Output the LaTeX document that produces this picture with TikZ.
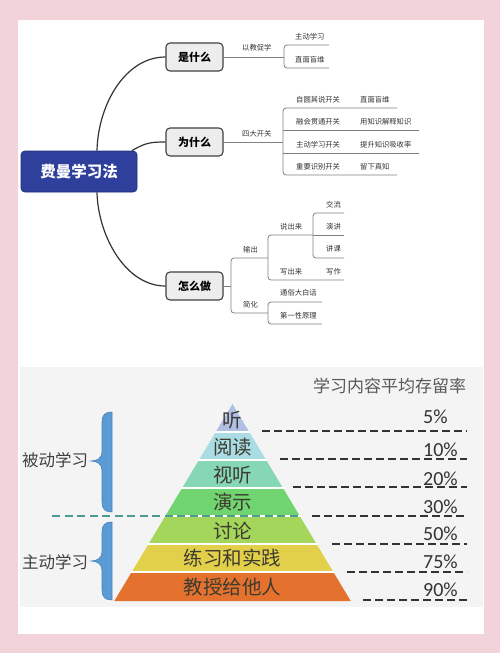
\documentclass[tikz,border=0pt]{standalone}
\usepackage{fontspec}
\setmainfont{Noto Sans CJK SC}
\newfontfamily\pctfont{Carlito}
\definecolor{bgpink}{HTML}{F2D3D9}
\definecolor{panelgray}{HTML}{F4F4F4}
\definecolor{rootblue}{HTML}{2E3F9C}
\definecolor{rootedge}{HTML}{22307A}
\definecolor{pyA}{HTML}{AFC0E4}
\definecolor{pyB}{HTML}{A9DCE3}
\definecolor{pyC}{HTML}{86D7B5}
\definecolor{pyD}{HTML}{70D470}
\definecolor{pyE}{HTML}{A3D65A}
\definecolor{pyF}{HTML}{E3D04A}
\definecolor{pyG}{HTML}{E4722E}
\definecolor{braceblue}{HTML}{5B9BD5}
\definecolor{braceedge}{HTML}{4A82B8}
\definecolor{tealdash}{HTML}{4B9A94}
\definecolor{pytext}{HTML}{3D3A30}
\begin{document}
\begin{tikzpicture}[x=1pt,y=-1pt,
  rootbox/.style={draw=rootedge, line width=0.8pt, fill=rootblue, rounded corners=4pt, text=white,
    font=\bfseries\fontsize{15.5}{18}\selectfont, minimum width=116pt, minimum height=41pt, inner sep=0pt},
  topic/.style={draw=black!75, line width=1.1pt, fill=black!7, rounded corners=4pt,
    font=\bfseries\fontsize{11}{13}\selectfont, minimum width=57pt, minimum height=28pt, inner sep=0pt},
  lbl/.style={anchor=west, inner sep=0pt, font=\fontsize{7.3}{9}\selectfont, text=black!80},
  branch/.style={draw=black!50, line width=0.8pt, rounded corners=3pt},
  curve/.style={draw=black!80, line width=1.2pt},
  pytxt/.style={inner sep=0pt, font=\fontsize{19.5}{22}\selectfont, text=pytext},
  pct/.style={anchor=west, inner sep=0pt, font=\pctfont\fontsize{20}{22}\selectfont, text=black!80},
  side/.style={inner sep=0pt, font=\fontsize{16.5}{19}\selectfont, text=black!75},
  pdash/.style={draw=black!80, line width=1.2pt, dash pattern=on 8pt off 4pt},
  tdash/.style={draw=tealdash, line width=1.1pt, dash pattern=on 8pt off 4.5pt}
]
\useasboundingbox (0,0) rectangle (500,653);
\fill[bgpink] (0,0) rectangle (500,653);
\fill[white] (18,20) rectangle (484,634);
\fill[panelgray] (20,367) rectangle (483,607);

% ---------- mind map ----------
\node[rootbox] (root) at (79,171.5) {费曼学习法};
\node[topic] (shi) at (194.5,57) {是什么};
\node[topic] (wei) at (194.5,142) {为什么};
\node[topic] (zen) at (194.5,286) {怎么做};

\draw[curve] ([xshift=18pt]root.north) .. controls (98,105) and (125,57) .. (shi.west);
\draw[curve] ([xshift=53pt]root.north) .. controls (145,143) and (150,142) .. (wei.west);
\draw[curve] ([xshift=18pt]root.south) .. controls (98,235) and (125,286) .. (zen.west);

% 是什么 branch
\draw[branch] (shi.east) -- (284,57);
\draw[branch] (329,45) -- (284,45) -- (284,68) -- (329,68);
\node[lbl] (s1) at (242,48) {以教促学};
\node[lbl] (s2) at (295,36.5) {主动学习};
\node[lbl] (s3) at (295,59.5) {直面盲维};

% 为什么 branch
\draw[branch] (wei.east) -- (283,142);
\draw[branch] (397,108) -- (283,108) -- (283,175) -- (397,175);
\draw[branch] (283,130) -- (419,130);
\draw[branch] (283,153) -- (419,153);
\node[lbl] (w0) at (242,133.5) {四大开关};
\node[lbl] (w1) at (296,100) {自圆其说开关};
\node[lbl] (w2) at (296,122) {融会贯通开关};
\node[lbl] (w3) at (296,145) {主动学习开关};
\node[lbl] (w4) at (296,167) {重要识别开关};
\node[lbl] (v1) at (360,100) {直面盲维};
\node[lbl] (v2) at (360,122) {用知识解释知识};
\node[lbl] (v3) at (360,145) {提升知识吸收率};
\node[lbl] (v4) at (360,167) {留下真知};

% 怎么做 branch
\draw[branch] (zen.east) -- (231,286);
\draw[branch] (268,258) -- (231,258) -- (231,313) -- (268,313);
\draw[branch] (313,235) -- (268,235) -- (268,280) -- (344,280);
\draw[branch] (344,213) -- (313,213) -- (313,258) -- (344,258);
\draw[branch] (313,235) -- (344,235);
\draw[branch] (322,302) -- (268,302) -- (268,324) -- (322,324);
\node[lbl] (z1) at (243,250) {输出};
\node[lbl] (z2) at (243,305) {简化};
\node[lbl] (z3) at (280,226.5) {说出来};
\node[lbl] (z4) at (280,271.5) {写出来};
\node[lbl] (z5) at (326,205) {交流};
\node[lbl] (z6) at (326,226.5) {演讲};
\node[lbl] (z7) at (326,248.5) {讲课};
\node[lbl] (z8) at (326,271.5) {写作};
\node[lbl] (z9) at (280,293) {通俗大白话};
\node[lbl] (z10) at (280,316) {第一性原理};

% ---------- pyramid ----------
\foreach \yt/\yb/\c in {404/432/pyA, 432/460/pyB, 460/488/pyC, 488/516/pyD, 516/544/pyE, 544/572/pyF, 572/601/pyG}{
  \fill[\c] ({232.5-0.6*(\yt-404)},\yt) -- ({232.5+0.6*(\yt-404)},\yt)
     -- ({232.5+0.6*(\yb-404)},\yb) -- ({232.5-0.6*(\yb-404)},\yb) -- cycle;
}
\foreach \y in {432,460,488,516,544,572}{
  \draw[white, line width=1.6pt] ({232.5-0.6*(\y-404)-1},\y) -- ({232.5+0.6*(\y-404)+1},\y);
}
\node[pytxt] (p1) at (232.5,420) {听};
\node[pytxt] (p2) at (232.5,447) {阅读};
\node[pytxt] (p3) at (232.5,475) {视听};
\node[pytxt] (p4) at (232.5,502) {演示};
\node[pytxt] (p5) at (232.5,531) {讨论};
\node[pytxt] (p6) at (232.5,558) {练习和实践};
\node[pytxt] (p7) at (232.5,587) {教授给他人};

\node[anchor=west, inner sep=0pt, font=\fontsize{17}{20}\selectfont, text=black!65] (title) at (313,386) {学习内容平均存留率};

\draw[pdash] (262,431) -- (467,431);
\draw[pdash] (280,459) -- (467,459);
\draw[pdash] (293,487) -- (467,487);
\draw[pdash] (312,516) -- (467,516);
\draw[pdash] (332,544) -- (467,544);
\draw[pdash] (347,572) -- (467,572);
\draw[pdash] (363,600) -- (467,600);

\node[pct] (r1) at (423,417) {5\%};
\node[pct] (r2) at (423,450) {10\%};
\node[pct] (r3) at (423,479) {20\%};
\node[pct] (r4) at (423,507) {30\%};
\node[pct] (r5) at (423,534) {50\%};
\node[pct] (r6) at (423,562) {75\%};
\node[pct] (r7) at (423,590) {90\%};

\draw[tdash] (52,516) -- (300,516);

\foreach \t/\b/\m in {412/512/461, 522/600/561}{
  \filldraw[fill=braceblue, draw=braceedge, line width=0.6pt]
    (112,\t) -- (112,\b) .. controls (105,\b) and (102,{\b-3}) .. (102,{\b-10})
    -- (102,{\m+9}) .. controls (102,{\m+3}) and (97,\m) .. (91,\m)
    .. controls (97,\m) and (102,{\m-3}) .. (102,{\m-9})
    -- (102,{\t+10}) .. controls (102,{\t+3}) and (105,\t) .. (112,\t) -- cycle;
}
\node[side] (passive) at (55,460) {被动学习};
\node[side] (active) at (55,562) {主动学习};
\end{tikzpicture}
\end{document}
